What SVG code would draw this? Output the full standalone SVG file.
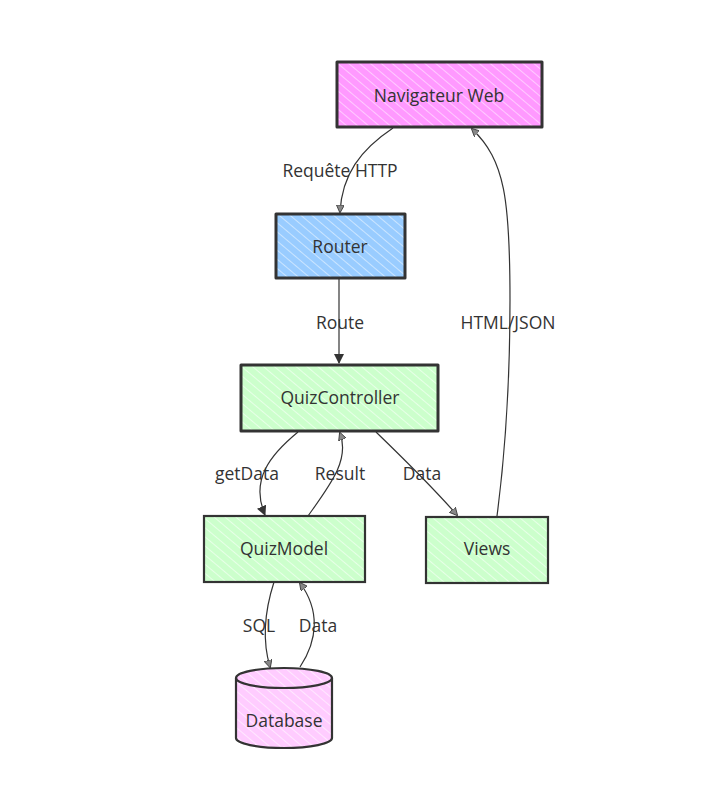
<svg xmlns="http://www.w3.org/2000/svg" width="720" height="802" viewBox="0 0 720 802">
<style>
.lbl{font-family:"Open Sans","DejaVu Sans",sans-serif;font-size:17.5px;fill:#333;text-anchor:middle;dominant-baseline:central}
.box{stroke:#333;stroke-width:3;stroke-linejoin:round}
.thin{stroke:#333;stroke-width:2.2}
.edge{fill:none;stroke:#333;stroke-width:1.2}
</style>
<defs>
<pattern id="hPink" patternUnits="userSpaceOnUse" width="7" height="7" patternTransform="rotate(-50)">
<rect width="7" height="7" fill="#ff99ff"/><line x1="0" y1="0" x2="0" y2="7" stroke="#fff" stroke-width="1.3" stroke-opacity="0.75"/>
</pattern>
<pattern id="hBlue" patternUnits="userSpaceOnUse" width="7" height="7" patternTransform="rotate(-50)">
<rect width="7" height="7" fill="#99ccff"/><line x1="0" y1="0" x2="0" y2="7" stroke="#fff" stroke-width="1.3" stroke-opacity="0.75"/>
</pattern>
<pattern id="hGreen" patternUnits="userSpaceOnUse" width="7" height="7" patternTransform="rotate(-50)">
<rect width="7" height="7" fill="#ccffcc"/><line x1="0" y1="0" x2="0" y2="7" stroke="#fff" stroke-width="1.3" stroke-opacity="0.85"/>
</pattern>
<pattern id="hLPink" patternUnits="userSpaceOnUse" width="7" height="7" patternTransform="rotate(-50)">
<rect width="7" height="7" fill="#ffccff"/><line x1="0" y1="0" x2="0" y2="7" stroke="#fff" stroke-width="1.3" stroke-opacity="0.85"/>
</pattern>
<marker id="arr" markerWidth="10" markerHeight="10" refX="9" refY="5" orient="auto" markerUnits="userSpaceOnUse">
<path d="M0,0 L10,5 L0,10 z" fill="#333"/>
</marker>
<marker id="arrS" markerWidth="8" markerHeight="8" refX="7" refY="4" orient="auto" markerUnits="userSpaceOnUse">
<path d="M0,0 L8,4 L0,8 z" fill="#888" stroke="#333" stroke-width="0.8"/>
</marker>
</defs>

<g id="connectors">
<g id="e-nav-router">
<path class="edge" d="M393,128 C360,150 342,175 340,212" marker-end="url(#arrS)"/>
<text class="lbl" x="340" y="170">Requête HTTP</text>
</g>
<g id="e-router-qc">
<path class="edge" d="M339,279 L339,363" marker-end="url(#arr)"/>
<text class="lbl" x="340" y="322">Route</text>
</g>
<g id="e-views-nav">
<path class="edge" d="M497,516 C503,470 510,400 510,300 C510,200 505,160 472,129" marker-end="url(#arrS)"/>
<text class="lbl" x="508" y="322">HTML/JSON</text>
</g>
<g id="e-qc-model">
<path class="edge" d="M298,432 C270,455 250,480 265,515" marker-end="url(#arr)"/>
<text class="lbl" x="247" y="473">getData</text>
</g>
<g id="e-model-qc">
<path class="edge" d="M308,516 C330,485 350,460 340,433" marker-end="url(#arrS)"/>
<text class="lbl" x="340" y="473">Result</text>
</g>
<g id="e-qc-views">
<path class="edge" d="M376,432 C405,460 435,490 457,515" marker-end="url(#arrS)"/>
<text class="lbl" x="422" y="473">Data</text>
</g>
<g id="e-model-db">
<path class="edge" d="M274,582 C265,610 262,640 270,667" marker-end="url(#arrS)"/>
<text class="lbl" x="259" y="625">SQL</text>
</g>
<g id="e-db-model">
<path class="edge" d="M300,667 C318,640 320,610 300,583" marker-end="url(#arrS)"/>
<text class="lbl" x="318" y="625">Data</text>
</g>
</g>

<g id="n-nav">
<rect class="box" x="337" y="62" width="205" height="65" fill="url(#hPink)"/>
<text class="lbl" x="439" y="95">Navigateur Web</text>
</g>
<g id="n-router">
<rect class="box" x="276" y="214" width="129" height="64" fill="url(#hBlue)"/>
<text class="lbl" x="340" y="246">Router</text>
</g>
<g id="n-qc">
<rect class="box" x="241" y="365" width="197" height="66" fill="url(#hGreen)"/>
<text class="lbl" x="340" y="397">QuizController</text>
</g>
<g id="n-model">
<rect class="thin" x="204" y="516" width="161" height="66" fill="url(#hGreen)"/>
<text class="lbl" x="284" y="548">QuizModel</text>
</g>
<g id="n-views">
<rect class="thin" x="426" y="517" width="122" height="66" fill="url(#hGreen)"/>
<text class="lbl" x="487" y="548">Views</text>
</g>
<g id="n-db">
<path class="thin" d="M236,678 A48,10 0 0,1 332,678 L332,738 A48,10 0 0,1 236,738 Z" fill="url(#hLPink)"/>
<path class="thin" fill="none" d="M236,678 A48,10 0 0,0 332,678"/>
<text class="lbl" x="284" y="720">Database</text>
</g>
</svg>
